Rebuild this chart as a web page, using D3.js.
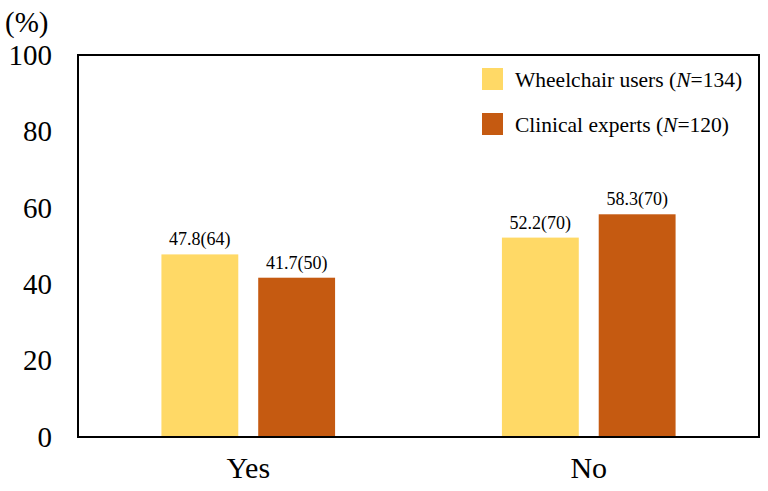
<!DOCTYPE html>
<html>
<head>
<meta charset="utf-8">
<script src="https://cdn.jsdelivr.net/npm/d3@7"></script>
<style>
  body { margin: 0; background: #fff; }
  svg { display: block; font-family: "Liberation Serif", "Times New Roman", serif; }
</style>
</head>
<body>
<svg id="chart" width="768" height="491"></svg>
<script>
const categories = ["Yes", "No"];
const seriesNames = ["Wheelchair users", "Clinical experts"];
const seriesN = [134, 120];
const wheelchairValues = [47.8, 52.2];
const wheelchairCounts = [64, 70];
const expertValues = [41.7, 58.3];
const expertCounts = [50, 70];
const yTicks = [0, 20, 40, 60, 80, 100];
const colors = ["#FFD966", "#C55A11"];

const series = [
  { name: seriesNames[0], n: seriesN[0], values: wheelchairValues, counts: wheelchairCounts, color: colors[0] },
  { name: seriesNames[1], n: seriesN[1], values: expertValues, counts: expertCounts, color: colors[1] }
];

const svg = d3.select("#chart");
const L = 78, R = 759, T = 55, B = 437;

const y = d3.scaleLinear().domain([0, 100]).range([B, T]);
const x0 = d3.scaleBand().domain(categories).range([L, R]).paddingInner(0.49).paddingOuter(0.245);
const x1 = d3.scaleBand().domain(seriesNames).range([0, x0.bandwidth()]).paddingInner(0.206).paddingOuter(0);

// bars
const groups = svg.append("g").selectAll("g")
  .data(categories)
  .join("g")
  .attr("transform", d => `translate(${x0(d)},0)`);

groups.selectAll("rect")
  .data((c, i) => series.map(s => ({ s, v: s.values[i], n: s.counts[i] })))
  .join("rect")
  .attr("x", d => x1(d.s.name))
  .attr("y", d => y(d.v))
  .attr("width", x1.bandwidth())
  .attr("height", d => B - y(d.v))
  .attr("fill", d => d.s.color);

groups.selectAll("text.val")
  .data((c, i) => series.map(s => ({ s, v: s.values[i], n: s.counts[i] })))
  .join("text")
  .attr("class", "val")
  .attr("x", d => x1(d.s.name) + x1.bandwidth() / 2)
  .attr("y", d => y(d.v) - 9)
  .attr("text-anchor", "middle")
  .attr("font-size", 18)
  .attr("fill", "#000")
  .text(d => `${d.v.toFixed(1)}(${d.n})`);

// frame
svg.append("rect")
  .attr("x", L).attr("y", T)
  .attr("width", R - L).attr("height", B - T)
  .attr("fill", "none").attr("stroke", "#000").attr("stroke-width", 2);

// y axis
const yAxis = svg.append("g")
  .attr("transform", `translate(${L},0)`)
  .call(d3.axisLeft(y).tickValues(yTicks).tickSize(0).tickPadding(26).tickFormat(d3.format("d")));
yAxis.select(".domain").remove();
yAxis.selectAll("text")
  .attr("font-family", "Liberation Serif, serif")
  .attr("font-size", 29)
  .attr("fill", "#000");

// x axis
const xAxis = svg.append("g")
  .attr("transform", `translate(0,${B})`)
  .call(d3.axisBottom(x0).tickSize(0).tickPadding(20));
xAxis.select(".domain").remove();
xAxis.selectAll("text")
  .attr("font-family", "Liberation Serif, serif")
  .attr("font-size", 30)
  .attr("fill", "#000");

// unit label
svg.append("text")
  .attr("x", 5).attr("y", 32)
  .attr("font-size", 29)
  .attr("fill", "#000")
  .text("(%)");

// legend
const legend = svg.append("g");
series.forEach((s, i) => {
  const ly = 68 + i * 45;
  legend.append("rect")
    .attr("x", 482).attr("y", ly)
    .attr("width", 21).attr("height", 22)
    .attr("fill", s.color);
  const t = legend.append("text")
    .attr("x", 515).attr("y", ly + 19)
    .attr("font-size", 21.5)
    .attr("fill", "#000");
  t.append("tspan").text(`${s.name} (`);
  t.append("tspan").attr("font-style", "italic").text("N");
  t.append("tspan").text(`=${s.n})`);
});
</script>
</body>
</html>
